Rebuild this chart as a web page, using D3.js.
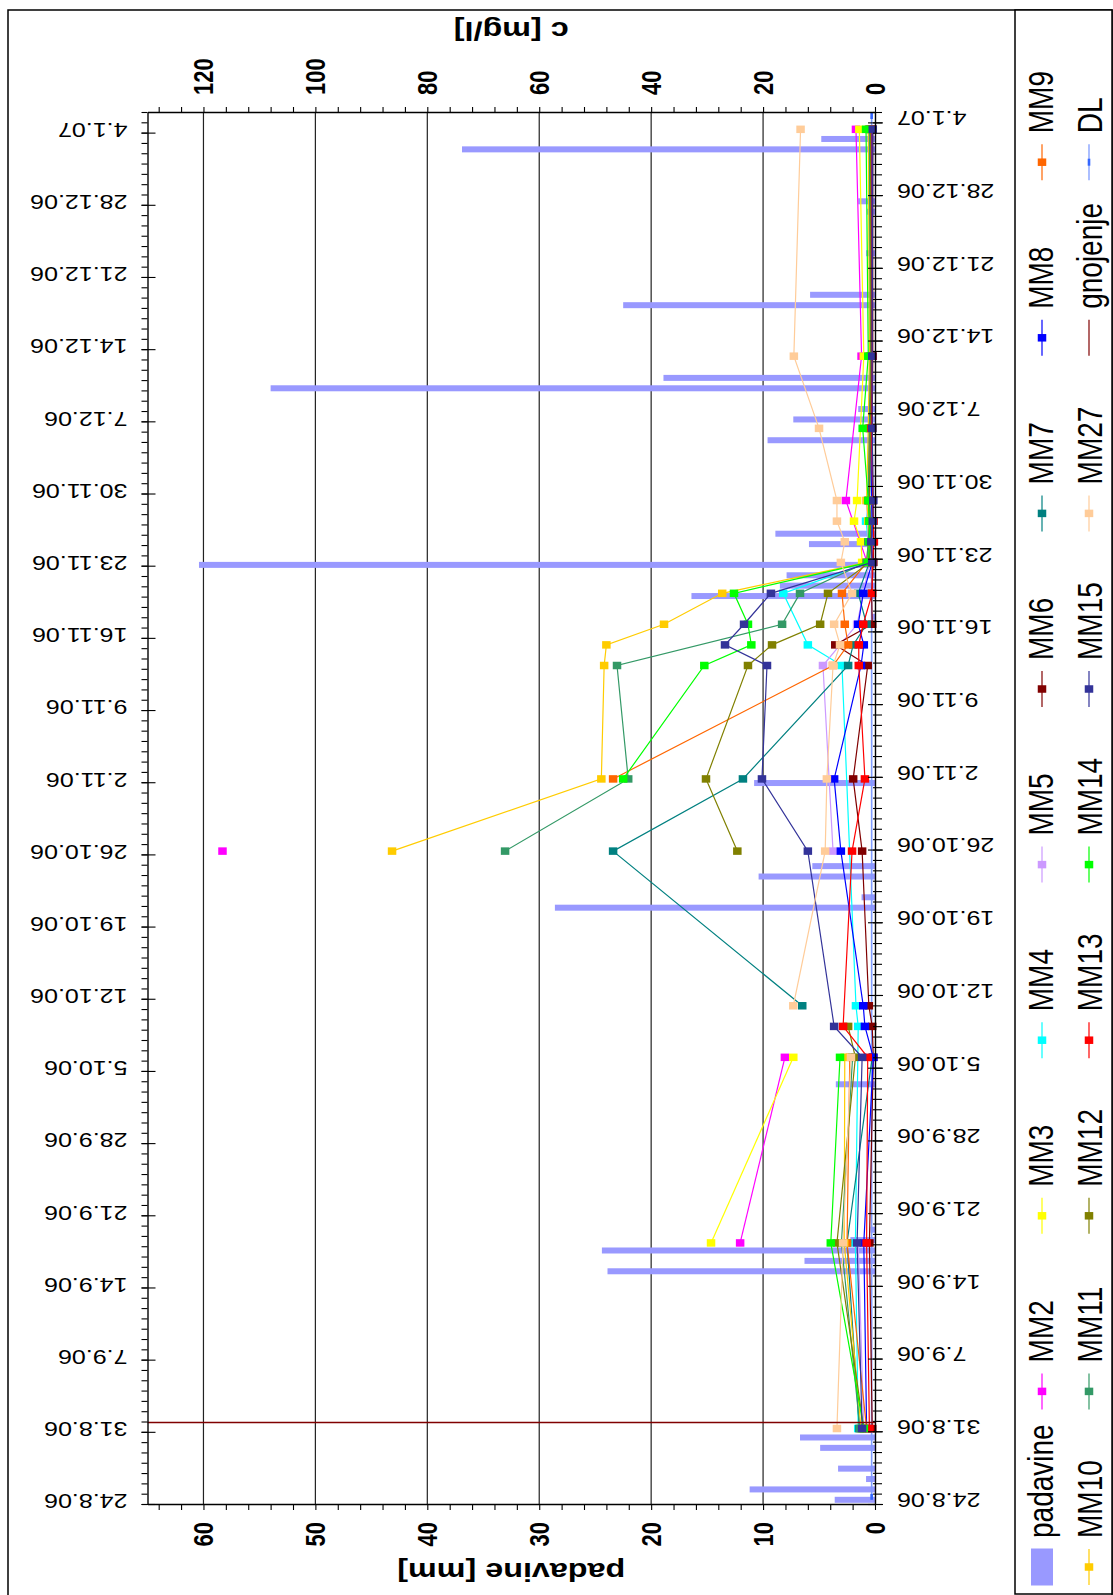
<!DOCTYPE html>
<html><head><meta charset="utf-8">
<script src="https://cdn.jsdelivr.net/npm/d3@7"></script>
<style>body{margin:0;background:#fff}svg{display:block}</style>
</head><body>
<script>
// ---------------- DATA ----------------
const dateTickLabels = ["24.8.06","31.8.06","7.9.06","14.9.06","21.9.06","28.9.06","5.10.06","12.10.06","19.10.06","26.10.06","2.11.06","9.11.06","16.11.06","23.11.06","30.11.06","7.12.06","14.12.06","21.12.06","28.12.06","4.1.07"];
const padavineTicks = [0,10,20,30,40,50,60];
const cTicks = [0,20,40,60,80,100,120];

// daily precipitation (padavine, mm)
const rainDates  = ["24.8.06","25.8.06","26.8.06","27.8.06","29.8.06","30.8.06","15.9.06","16.9.06","17.9.06","18.9.06","19.9.06","3.10.06","20.10.06","21.10.06","23.10.06","24.10.06","1.11.06","17.11.06","19.11.06","20.11.06","21.11.06","22.11.06","24.11.06","25.11.06","4.12.06","6.12.06","7.12.06","9.12.06","10.12.06","17.12.06","18.12.06","22.12.06","26.12.06","27.12.06","1.1.07","2.1.07"];
const rainValues = [3.6,11.2,0.8,3.3,4.9,6.7,23.9,6.3,24.4,2.2,0.4,3.5,28.6,1.2,10.4,5.6,10.8,0.3,16.4,8.5,7.9,60.4,5.9,8.9,9.6,7.3,1.5,54.0,18.9,22.5,5.8,0.8,0.7,1.5,36.9,4.8];

// sampling days (samples taken at about 10:00)
const sampleDates = ["31.8.06","18.9.06","6.10.06","9.10.06","11.10.06","26.10.06","2.11.06","13.11.06","15.11.06","17.11.06","20.11.06","23.11.06","25.11.06","27.11.06","29.11.06","6.12.06","13.12.06","4.1.07"];
const sampleHour = 10;

// concentrations c [mg/l] per series (null = no sample)
const MM2  = [2.5,24.1,16.1,null,null,116.6,null,null,null,null,null,1.4,null,null,5.2,null,2.4,3.4];
const MM3  = [2.5,29.3,14.6,null,null,null,null,null,null,null,null,2.3,2.5,3.75,3.2,null,2.0,2.8];
const MM4  = [3.0,3.5,null,3.0,3.4,null,null,5.9,12.0,null,16.4,1.0,1.2,1.6,1.0,0.8,0.7,1.0];
const MM5  = [2.0,3.0,null,null,null,7.5,null,9.3,null,3.2,null,1.0,null,null,1.5,null,null,null];
const MM6  = [0.5,1.0,0.3,0.5,1.1,2.3,3.9,1.3,7.1,0.5,0.6,0.3,0.3,0.3,0.4,0.5,0.4,0.4];
const MM7  = [2.8,5.0,0.5,null,13.0,46.8,23.6,4.8,3.9,1.5,3.0,1.0,0.8,0.8,1.0,0.8,0.6,0.8];
const MM8  = [1.5,2.0,0.3,1.8,2.1,6.1,7.3,2.5,2.0,3.0,2.1,0.5,0.6,0.5,0.6,0.8,0.6,0.7];
const MM9  = [1.5,5.0,4.5,null,null,null,46.8,7.5,4.8,5.4,5.9,1.5,1.0,1.0,1.2,1.0,0.8,1.0];
const MM10 = [2.5,5.5,5.4,null,null,86.3,48.9,48.4,48.0,37.7,27.3,1.5,1.2,1.2,1.5,1.2,1.0,1.2];
const MM11 = [2.7,6.0,4.0,null,null,66.1,44.1,46.1,null,16.6,13.4,1.5,1.2,1.0,1.2,1.0,0.8,1.0];
const MM12 = [2.0,6.8,3.5,4.8,null,24.6,30.2,22.7,18.4,9.8,8.4,1.0,0.8,0.8,1.0,0.8,0.7,0.8];
const MM13 = [1.0,1.5,1.3,5.7,null,4.1,1.8,2.9,2.9,2.1,0.5,0.5,0.2,0.3,0.4,0.6,0.5,0.5];
const MM14 = [2.0,7.9,6.25,null,null,null,45.0,30.5,22.1,22.7,25.2,1.2,1.0,1.0,1.2,2.2,1.2,1.6];
const MM15 = [2.3,3.2,2.3,7.3,null,12.0,20.2,19.3,26.8,23.4,18.6,0.5,0.7,0.4,0.3,0.5,0.5,0.4];
const MM27 = [6.8,5.7,4.3,null,14.6,8.9,8.6,7.5,6.25,7.3,4.1,6.1,5.4,6.8,6.8,10.0,14.5,13.3];

// indices where a series line is interrupted (new segment starts)
const lineBreaks = {MM2:[1,5,11], MM3:[1,11], MM5:[5], MM7:[4], MM9:[6], MM10:[5], MM11:[5], MM12:[5], MM14:[6], MM27:[4]};

const gnojenjeDate = "1.9.06";
const dlDates  = ["24.8.06 19:00","5.1.07 17:00"];
const dlValues = [0.6,0.6];

const seriesNames = ["MM2","MM3","MM4","MM5","MM6","MM7","MM8","MM9","MM10","MM11","MM12","MM13","MM14","MM15","MM27"];
const seriesData = {MM2,MM3,MM4,MM5,MM6,MM7,MM8,MM9,MM10,MM11,MM12,MM13,MM14,MM15,MM27};
const legendNames = ["padavine","MM2","MM3","MM4","MM5","MM6","MM7","MM8","MM9","MM10","MM11","MM12","MM13","MM14","MM15","MM27","gnojenje","DL"];

// ---------------- STYLE ----------------
const colors = {padavine:"#9999FF",MM2:"#FF00FF",MM3:"#FFFF00",MM4:"#00FFFF",MM5:"#CC99FF",MM6:"#800000",MM7:"#008080",MM8:"#0000FF",MM9:"#FF6600",MM10:"#FFCC00",MM11:"#339966",MM12:"#808000",MM13:"#FF0000",MM14:"#00FF00",MM15:"#333399",MM27:"#FFCC99",gnojenje:"#800000",DL:"#3366FF"};
const FONT = '"Liberation Sans", Arial, sans-serif';
const S = 1.22; // vertical text stretch of the original chart

function parseD(s){
  const [d,t] = s.split(" ");
  const [dd,mm,yy] = d.split(".").map(Number);
  let h=0, mi=0;
  if(t){ [h,mi] = t.split(":").map(Number); }
  return new Date(Date.UTC(2000+yy, mm-1, dd, h, mi));
}

const W=1113, H=1595;
const svg = d3.select("body").append("svg").attr("width",W).attr("height",H)
  .style("font-family",FONT);
// the chart is drawn in landscape coordinates and turned by -90 degrees
const g = svg.append("g").attr("transform",`translate(0,${H}) rotate(-90)`);
const P = {left:90, right:1482, top:147.5, bottom:875};

// primary (category) date axis for the bars, secondary date axis for the samples
const xCat = d3.scaleUtc().domain([parseD("24.8.06"), parseD("5.1.07")]).range([P.left,P.right]);
const xVal = d3.scaleUtc().domain([parseD("24.8.06"), parseD("6.1.07")]).range([P.left,P.right]);
const yP = d3.scaleLinear().domain([0,65]).range([P.bottom,P.top]);
const yC = d3.scaleLinear().domain([0,130]).range([P.bottom,P.top]);

// frame and legend box
g.append("rect").attr("x",-5).attr("y",8).attr("width",1590).attr("height",1104)
  .attr("fill","none").attr("stroke","#000").attr("stroke-width",1.5);
g.append("rect").attr("x",1).attr("y",1015).attr("width",1584).attr("height",97)
  .attr("fill","#fff").attr("stroke","#000").attr("stroke-width",1.5);

// gridlines
g.append("g").selectAll("line").data(padavineTicks.filter(v=>v>0)).join("line")
  .attr("x1",P.left).attr("x2",P.right).attr("y1",d=>yP(d)).attr("y2",d=>yP(d))
  .attr("stroke","#222").attr("stroke-width",1.2);

// bars
g.append("g").selectAll("rect").data(rainDates.map((d,i)=>({d:parseD(d),v:rainValues[i]}))).join("rect")
  .attr("x",d=>xCat(d3.utcHour.offset(d.d,12))-3).attr("width",6)
  .attr("y",d=>yP(d.v)).attr("height",d=>yP(0)-yP(d.v))
  .attr("fill",colors.padavine);

// DL
const dlPts = dlDates.map((d,i)=>({d:parseD(d),v:dlValues[i]}));
const lineGen = d3.line().x(p=>xVal(p.d)).y(p=>yC(p.v));
g.append("path").attr("d",lineGen(dlPts)).attr("fill","none").attr("stroke","#7f9cff").attr("stroke-width",1.6);

// series
const sdates = sampleDates.map(s=>d3.utcHour.offset(parseD(s),sampleHour));
seriesNames.forEach(name=>{
  const vals = seriesData[name];
  const br = lineBreaks[name]||[];
  const segs=[]; let cur=[];
  vals.forEach((v,i)=>{
    if(v==null) return;
    if(br.includes(i) && cur.length){ segs.push(cur); cur=[]; }
    cur.push({d:sdates[i],v});
  });
  if(cur.length) segs.push(cur);
  const sg = g.append("g");
  segs.filter(s=>s.length>1).forEach(s=>{
    sg.append("path").attr("d",lineGen(s)).attr("fill","none")
      .attr("stroke",colors[name]).attr("stroke-width",1.2);
  });
  sg.selectAll("rect").data(segs.flat()).join("rect")
    .attr("x",p=>xVal(p.d)-3.75).attr("y",p=>yC(p.v)-4.25).attr("width",7.5).attr("height",8.5)
    .attr("fill",colors[name]);
});

// DL markers
g.append("g").selectAll("rect").data(dlPts).join("rect")
  .attr("x",p=>xVal(p.d)-3).attr("y",p=>yC(p.v)-1.3).attr("width",6).attr("height",2.6).attr("fill",colors.DL);

// gnojenje
const gx = xVal(parseD(gnojenjeDate));
g.append("line").attr("x1",gx).attr("x2",gx).attr("y1",P.bottom).attr("y2",P.top)
  .attr("stroke",colors.gnojenje).attr("stroke-width",1.3);

// ---------------- AXES ----------------
function styleAxis(sel){
  sel.selectAll("path.domain").attr("stroke","#000").attr("stroke-width",1.4);
  sel.selectAll("line").attr("stroke","#000").attr("stroke-width",1.1);
}
const majors = dateTickLabels.map(parseD);
// bottom (category axis)
const daysCat = d3.utcDay.range(xCat.domain()[0], d3.utcDay.offset(xCat.domain()[1],1));
g.append("g").attr("transform",`translate(0,${P.bottom})`)
  .call(d3.axisBottom(xCat).tickValues(daysCat).tickSizeInner(7).tickSizeOuter(0).tickFormat(""))
  .call(styleAxis).call(a=>a.selectAll("line").attr("y1",-2));
g.append("g").attr("transform",`translate(0,${P.bottom})`)
  .call(d3.axisBottom(xCat).tickValues(majors).tickSizeInner(8).tickSizeOuter(0).tickFormat((d,i)=>dateTickLabels[i]))
  .call(styleAxis).call(a=>{
    a.select("path.domain").remove();
    a.selectAll("line").attr("y1",-7);
    a.selectAll("text").attr("y",null).attr("dy","0.35em").attr("text-anchor","end")
      .attr("transform",`translate(4.5,22) scale(1,${S}) rotate(-90)`)
      .style("font-size","20.5px").style("font-family",FONT).attr("fill","#000");
  });
// top (secondary date axis)
const daysVal = d3.utcDay.range(xVal.domain()[0], d3.utcDay.offset(xVal.domain()[1],1));
g.append("g").attr("transform",`translate(0,${P.top})`)
  .call(d3.axisTop(xVal).tickValues(daysVal).tickSizeInner(6).tickSizeOuter(0).tickFormat(""))
  .call(styleAxis);
g.append("g").attr("transform",`translate(0,${P.top})`)
  .call(d3.axisTop(xVal).tickValues(majors).tickSizeInner(6).tickSizeOuter(0).tickFormat((d,i)=>dateTickLabels[i]))
  .call(styleAxis).call(a=>{
    a.select("path.domain").remove();
    a.selectAll("line").attr("y1",8);
    a.selectAll("text").attr("y",null).attr("dy","0.35em").attr("text-anchor","start")
      .attr("transform",`translate(3,-20) scale(1,${S}) rotate(-90)`)
      .style("font-size","20.5px").style("font-family",FONT).attr("fill","#000");
  });
// left (padavine)
g.append("g").attr("transform",`translate(${P.left},0)`)
  .call(d3.axisLeft(yP).tickValues(d3.range(0,65,2)).tickSizeInner(5).tickSizeOuter(0)
    .tickFormat(d=>padavineTicks.includes(d)?d:""))
  .call(styleAxis).call(a=>{
    a.selectAll("text").attr("x",null).attr("dy","0.35em").attr("text-anchor","end")
      .attr("transform",`translate(-17,0) scale(1,${S})`)
      .style("font-size","22px").style("font-weight","bold").style("font-family",FONT).attr("fill","#000");
  });
// right (c)
g.append("g").attr("transform",`translate(${P.right},0)`)
  .call(d3.axisRight(yC).tickValues(d3.range(0,131,4)).tickSizeInner(6).tickSizeOuter(0)
    .tickFormat(d=>cTicks.includes(d)?d:""))
  .call(styleAxis).call(a=>{
    a.selectAll("text").attr("x",null).attr("dy","0.35em").attr("text-anchor","start")
      .attr("transform",`translate(18,0) scale(1,${S})`)
      .style("font-size","22px").style("font-weight","bold").style("font-family",FONT).attr("fill","#000");
  });

// axis titles
const midY = (P.top+P.bottom)/2;
[["padavine [mm]",23],["c [mg/l]",1564]].forEach(([t,lx])=>{
  g.append("text").text(t).attr("text-anchor","middle").attr("dy","0.35em")
    .attr("transform",`translate(${lx},${midY}) scale(1,${S}) rotate(-90)`)
    .style("font-size","26.5px").style("font-weight","bold");
});

// ---------------- LEGEND ----------------
legendNames.forEach((name,i)=>{
  const row = i<9?0:1, col=i%9;
  const cx = 28+175.6*col;
  const cy = row===0?1042:1089;
  const base = row===0?1053:1102;
  const lg = g.append("g");
  if(name==="padavine"){
    lg.append("rect").attr("x",cx-18.5).attr("y",cy-11).attr("width",37).attr("height",22).attr("fill",colors.padavine);
  } else if(name==="gnojenje"){
    lg.append("line").attr("x1",cx-18).attr("x2",cx+18).attr("y1",cy).attr("y2",cy).attr("stroke",colors.gnojenje).attr("stroke-width",1.2);
  } else if(name==="DL"){
    lg.append("line").attr("x1",cx-18).attr("x2",cx+18).attr("y1",cy).attr("y2",cy).attr("stroke","#7f9cff").attr("stroke-width",1.3);
    lg.append("rect").attr("x",cx-3.5).attr("y",cy-1.3).attr("width",7).attr("height",2.6).attr("fill",colors.DL);
  } else {
    lg.append("line").attr("x1",cx-18).attr("x2",cx+18).attr("y1",cy).attr("y2",cy).attr("stroke",colors[name]).attr("stroke-width",1.2);
    lg.append("rect").attr("x",cx-3.75).attr("y",cy-4.25).attr("width",7.5).attr("height",8.5).attr("fill",colors[name]);
  }
  lg.append("text").text(name).attr("transform",`translate(${cx+29},${base}) scale(1,${S})`)
    .style("font-size","28px").attr("fill","#000");
});
</script>
</body></html>
